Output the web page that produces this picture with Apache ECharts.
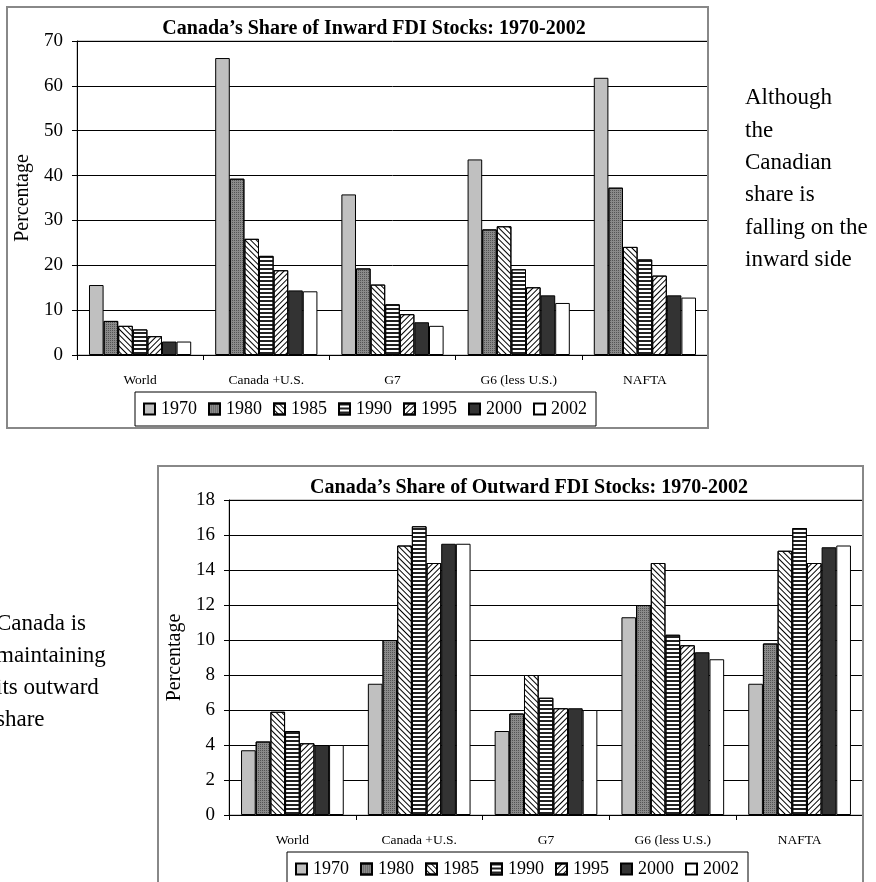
<!DOCTYPE html>
<html><head><meta charset="utf-8">
<script src="https://cdn.jsdelivr.net/npm/echarts@6/dist/echarts.min.js"></script>
<style>html,body{margin:0;padding:0;background:#fff}#c{width:876px;height:882px}</style>
</head><body><div id="c"></div>
<script>
const categories = ['World', 'Canada +U.S.', 'G7', 'G6 (less U.S.)', 'NAFTA'];
const years = ['1970', '1980', '1985', '1990', '1995', '2000', '2002'];
// Inward FDI share (%), per year, across categories
const inward1970 = [15.6, 66.2, 35.8, 43.6, 61.8];
const inward1980 = [7.6, 39.3, 19.3, 28.0, 37.3];
const inward1985 = [6.5, 25.9, 15.7, 28.7, 24.1];
const inward1990 = [5.7, 22.1, 11.3, 19.1, 21.3];
const inward1995 = [4.2, 18.9, 9.1, 15.1, 17.7];
const inward2000 = [3.0, 14.4, 7.3, 13.3, 13.3];
const inward2002 = [3.0, 14.2, 6.5, 11.6, 12.8];
// Outward FDI share (%)
const outward1970 = [3.7, 7.5, 4.8, 11.3, 7.5];
const outward1980 = [4.2, 10.0, 5.8, 12.0, 9.8];
const outward1985 = [5.9, 15.4, 8.0, 14.4, 15.1];
const outward1990 = [4.8, 16.5, 6.7, 10.3, 16.4];
const outward1995 = [4.1, 14.4, 6.1, 9.7, 14.4];
const outward2000 = [4.0, 15.5, 6.1, 9.3, 15.3];
const outward2002 = [4.0, 15.5, 6.0, 8.9, 15.4];
const inwardTicks = [0, 10, 20, 30, 40, 50, 60, 70];
const outwardTicks = [0, 2, 4, 6, 8, 10, 12, 14, 16, 18];

const inwardSeries = [inward1970, inward1980, inward1985, inward1990, inward1995, inward2000, inward2002];
const outwardSeries = [outward1970, outward1980, outward1985, outward1990, outward1995, outward2000, outward2002];

const FONT = '"Liberation Serif", "DejaVu Serif", serif';
const styles = [
  { color: '#c0c0c0' },
  { color: '#8a8a8a', decal: { symbol: 'rect', symbolSize: 1, dashArrayX: [1, 1], dashArrayY: [1, 1], color: 'rgba(40,40,40,0.55)' } },
  { color: '#ffffff', decal: { symbol: 'rect', symbolSize: 1, dashArrayX: [1, 0], dashArrayY: [1, 2.5], rotation: Math.PI / 4, color: '#000' } },
  { color: '#ffffff', decal: { symbol: 'rect', symbolSize: 1, dashArrayX: [1, 0], dashArrayY: [1.5, 1.5], rotation: 0, color: '#222' } },
  { color: '#ffffff', decal: { symbol: 'rect', symbolSize: 1, dashArrayX: [1, 0], dashArrayY: [1, 2.5], rotation: -Math.PI / 4, color: '#000' } },
  { color: '#333333' },
  { color: '#ffffff' }
];

function makeSeries(data, idx) {
  return data.map((d, i) => ({
    name: years[i], type: 'bar', xAxisIndex: idx, yAxisIndex: idx,
    data: d, barGap: '0%', barCategoryGap: '19%',
    itemStyle: Object.assign({ borderColor: '#000', borderWidth: 1 }, styles[i]),
    emphasis: { disabled: true }
  }));
}

function yAxis(idx, max, interval, nameGap) {
  return {
    type: 'value', gridIndex: idx, min: 0, max: max, interval: interval,
    name: 'Percentage', nameLocation: 'middle', nameGap: nameGap, nameRotate: 90,
    nameTextStyle: { fontFamily: FONT, fontSize: 20, color: '#000' },
    axisLine: { show: true, lineStyle: { color: '#000', width: 1 } },
    axisTick: { show: true, length: 5, lineStyle: { color: '#000' } },
    axisLabel: { fontFamily: FONT, fontSize: 19, color: '#000', margin: 14 },
    splitLine: { show: true, lineStyle: { color: '#000', width: 1 } }
  };
}
function xAxis(idx) {
  return {
    type: 'category', gridIndex: idx, data: categories,
    axisLine: { lineStyle: { color: '#000', width: 1 } },
    axisTick: { show: true, length: 5, inside: false, lineStyle: { color: '#000' } },
    axisLabel: { fontFamily: FONT, fontSize: 13.5, color: '#000', margin: 18 }
  };
}
function legend(left, top) {
  return {
    data: years, left: left, top: top, width: 470, orient: 'horizontal',
    backgroundColor: '#fff', borderColor: '#000', borderWidth: 1,
    padding: [8, 9, 8, 8], itemWidth: 11, itemHeight: 11, itemGap: 11,
    icon: 'rect', selectedMode: false,
    textStyle: { fontFamily: FONT, fontSize: 18, color: '#000', padding: [0, 0, 0, 1] }
  };
}

const chart = echarts.init(document.getElementById('c'), null, { renderer: 'canvas' });
chart.setOption({
  animation: false,
  backgroundColor: '#fff',
  title: [
    { text: 'Canada\u2019s Share of Inward FDI Stocks: 1970-2002', left: 369, top: 14, textAlign: 'center',
      textStyle: { fontFamily: FONT, fontSize: 20, fontWeight: 'bold', color: '#000' } },
    { text: 'Canada\u2019s Share of Outward FDI Stocks: 1970-2002', left: 524, top: 473, textAlign: 'center',
      textStyle: { fontFamily: FONT, fontSize: 20, fontWeight: 'bold', color: '#000' } }
  ],
  legend: [legend(135, 392), legend(287, 852)],
  grid: [
    { left: 77, right: 168, top: 41, bottom: 527, show: true, borderColor: '#999', borderWidth: 1, containLabel: false },
    { left: 229, right: 13, top: 500, bottom: 67, show: true, borderColor: '#999', borderWidth: 1, containLabel: false }
  ],
  xAxis: [xAxis(0), xAxis(1)],
  yAxis: [yAxis(0, inwardTicks[inwardTicks.length - 1], inwardTicks[1] - inwardTicks[0], 40),
          yAxis(1, outwardTicks[outwardTicks.length - 1], outwardTicks[1] - outwardTicks[0], 41)],
  series: makeSeries(inwardSeries, 0).concat(makeSeries(outwardSeries, 1)),
  graphic: [
    { type: 'rect', shape: { x: 7, y: 7, width: 701, height: 421 }, style: { fill: 'none', stroke: '#888', lineWidth: 2 }, z: 100, silent: true },
    { type: 'rect', shape: { x: 158, y: 466, width: 705, height: 430 }, style: { fill: 'none', stroke: '#888', lineWidth: 2 }, z: 100, silent: true },
    { type: 'text', left: 745, top: 82, style: { text: 'Although\nthe\nCanadian\nshare is\nfalling on the\ninward side', font: '23px ' + FONT, fill: '#000', lineHeight: 32.4 } },
    { type: 'text', left: -4, top: 608, style: { text: 'Canada is\nmaintaining\nits outward\nshare', font: '23px ' + FONT, fill: '#000', lineHeight: 32 } }
  ]
});
</script></body></html>
